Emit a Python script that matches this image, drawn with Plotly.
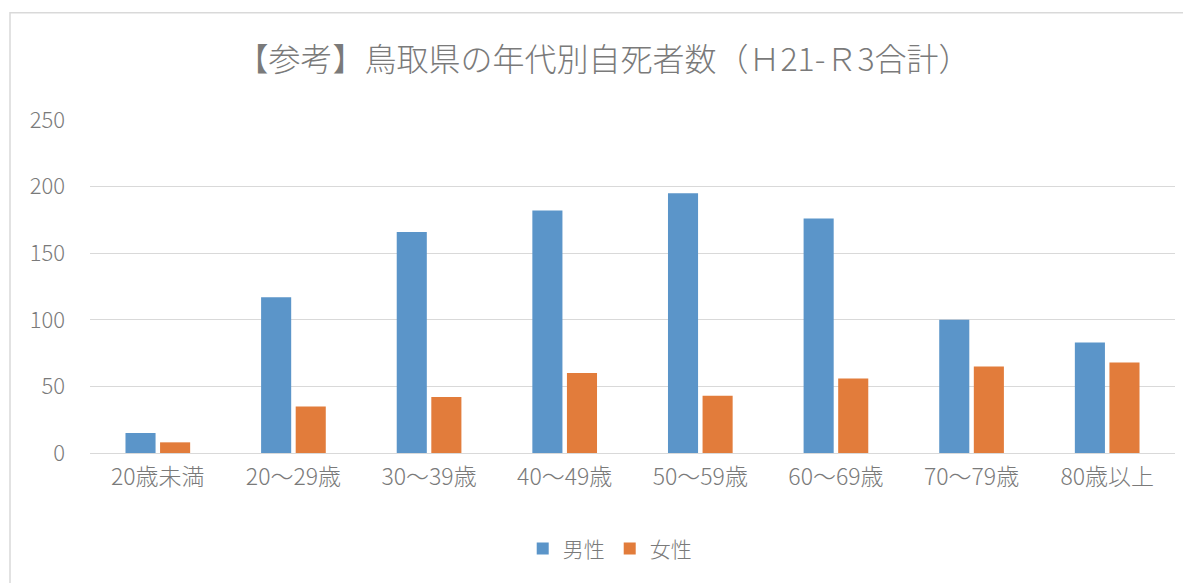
import plotly.graph_objects as go

categories = ["20歳未満", "20～29歳", "30～39歳", "40～49歳", "50～59歳", "60～69歳", "70～79歳", "80歳以上"]
male = [15, 117, 166, 182, 195, 176, 100, 83]
female = [8, 35, 42, 60, 43, 56, 65, 68]
title_text = "【参考】鳥取県の年代別自死者数（Ｈ21-Ｒ3合計）"

FONT = "Noto Sans CJK JP, Noto Sans, sans-serif"
GRAY = "#7A7A7A"

fig = go.Figure()
fig.add_trace(go.Bar(name="男性", x=categories, y=male, marker=dict(color="#5B95C9", line=dict(width=0))))
fig.add_trace(go.Bar(name="女性", x=categories, y=female, marker=dict(color="#E27C3B", line=dict(width=0))))

fig.update_layout(
    width=1191, height=583,
    margin=dict(l=82, r=24, t=111.5, b=138),
    paper_bgcolor="white", plot_bgcolor="white",
    barmode="group", bargap=0.49, bargroupgap=0.13,
    font=dict(family=FONT, color=GRAY, size=18, weight=300),
    title=dict(text=title_text, x=0.5, xanchor="center", y=1 - 52/583, yanchor="middle",
               font=dict(family=FONT, size=32, color=GRAY, weight=300)),
    legend=dict(orientation="h", x=0.479, xanchor="center", y=-0.288, yanchor="middle",
                font=dict(size=21, color=GRAY, weight=300), itemwidth=30, traceorder="normal"),
    xaxis=dict(showgrid=False, showline=False, ticks="", ticklabelstandoff=8,
               tickfont=dict(size=23, color=GRAY, weight=300)),
    yaxis=dict(range=[0, 250], dtick=50, showgrid=True, gridcolor="#D9D9D9", gridwidth=1,
               zeroline=True, zerolinecolor="#D9D9D9", zerolinewidth=1, showline=False,
               ticks="", ticklabelstandoff=24, tickfont=dict(size=22, color=GRAY, weight=300)),
    shapes=[dict(type="rect", xref="paper", yref="paper",
                 x0=(10 - 90) / 1085, x1=(1200 - 90) / 1085,
                 y0=(453 - 600) / 333.5, y1=(453 - 12) / 333.5,
                 line=dict(color="#D9D9D9", width=1.5), fillcolor="rgba(0,0,0,0)", layer="below")],
)

fig.write_html("out.html")
